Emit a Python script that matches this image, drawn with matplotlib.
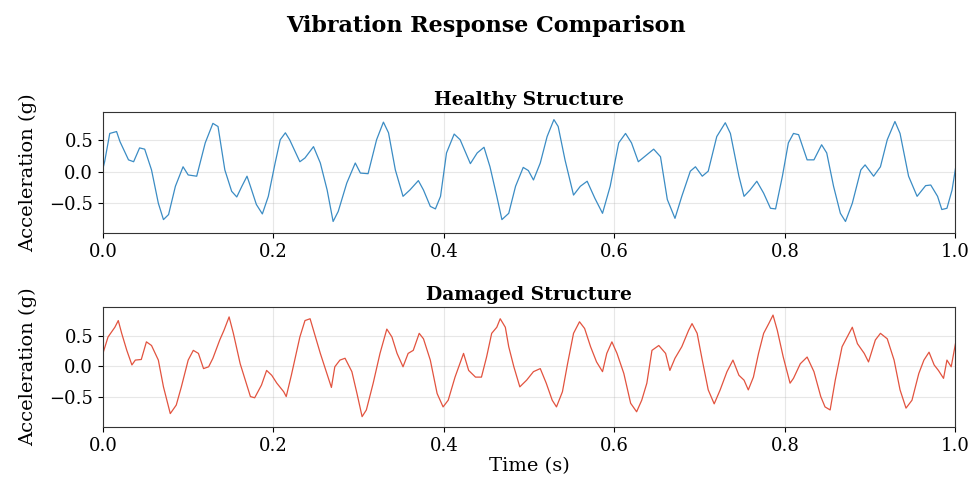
import numpy as np
import matplotlib
matplotlib.use("Agg")
import matplotlib.pyplot as plt

# Dados (tempo em s, aceleracao em g)
t_healthy = [0.000, 0.002, 0.008, 0.016, 0.020, 0.030, 0.036, 0.043, 0.049, 0.057,
             0.065, 0.071, 0.077, 0.085, 0.094, 0.100, 0.110, 0.120, 0.129, 0.135,
             0.143, 0.151, 0.157, 0.163, 0.169, 0.173, 0.180, 0.187, 0.194, 0.202,
             0.208, 0.214, 0.219, 0.231, 0.237, 0.247, 0.255, 0.263, 0.270, 0.276,
             0.286, 0.296, 0.302, 0.311, 0.321, 0.329, 0.335, 0.343, 0.352, 0.360,
             0.370, 0.376, 0.384, 0.390, 0.396, 0.403, 0.412, 0.419, 0.431, 0.439,
             0.447, 0.454, 0.462, 0.468, 0.476, 0.484, 0.493, 0.499, 0.505, 0.513,
             0.521, 0.529, 0.534, 0.542, 0.552, 0.560, 0.568, 0.577, 0.586, 0.595,
             0.605, 0.613, 0.620, 0.628, 0.638, 0.646, 0.654, 0.662, 0.671, 0.679,
             0.689, 0.695, 0.703, 0.710, 0.720, 0.730, 0.736, 0.746, 0.752, 0.759,
             0.767, 0.775, 0.783, 0.789, 0.797, 0.804, 0.810, 0.816, 0.826, 0.834,
             0.843, 0.849, 0.857, 0.865, 0.871, 0.879, 0.889, 0.894, 0.904, 0.912,
             0.920, 0.929, 0.935, 0.945, 0.955, 0.965, 0.971, 0.979, 0.984, 0.990,
             0.996, 1.000]
a_healthy = [0.05, 0.16, 0.61, 0.64, 0.48, 0.19, 0.16, 0.38, 0.36, 0.03,
             -0.50, -0.76, -0.68, -0.23, 0.08, -0.05, -0.07, 0.46, 0.77, 0.72,
             0.03, -0.31, -0.40, -0.23, -0.07, -0.23, -0.52, -0.67, -0.39, 0.14,
             0.51, 0.62, 0.51, 0.16, 0.22, 0.40, 0.14, -0.29, -0.79, -0.63,
             -0.18, 0.14, -0.02, -0.03, 0.51, 0.79, 0.62, 0.03, -0.39, -0.29,
             -0.14, -0.29, -0.55, -0.59, -0.39, 0.30, 0.60, 0.51, 0.13, 0.30,
             0.39, 0.08, -0.39, -0.76, -0.66, -0.23, 0.07, 0.02, -0.13, 0.14,
             0.56, 0.83, 0.72, 0.19, -0.37, -0.23, -0.15, -0.42, -0.66, -0.23,
             0.46, 0.61, 0.46, 0.16, 0.27, 0.36, 0.24, -0.44, -0.74, -0.39,
             0.01, 0.08, -0.07, 0.01, 0.56, 0.78, 0.61, -0.07, -0.39, -0.29,
             -0.15, -0.34, -0.58, -0.59, -0.07, 0.46, 0.61, 0.59, 0.19, 0.19,
             0.43, 0.30, -0.23, -0.66, -0.79, -0.50, 0.03, 0.11, -0.07, 0.08,
             0.51, 0.80, 0.61, -0.07, -0.39, -0.22, -0.21, -0.39, -0.60, -0.58,
             -0.29, 0.05]

t_damaged = [0.000, 0.006, 0.014, 0.018, 0.022, 0.028, 0.034, 0.038, 0.045, 0.051,
             0.057, 0.065, 0.071, 0.079, 0.086, 0.092, 0.100, 0.106, 0.112, 0.118,
             0.124, 0.129, 0.137, 0.142, 0.148, 0.153, 0.161, 0.167, 0.173, 0.178,
             0.186, 0.192, 0.198, 0.204, 0.212, 0.215, 0.221, 0.231, 0.237, 0.243,
             0.247, 0.255, 0.264, 0.268, 0.272, 0.278, 0.284, 0.292, 0.298, 0.304,
             0.309, 0.317, 0.325, 0.333, 0.339, 0.345, 0.352, 0.358, 0.364, 0.371,
             0.376, 0.384, 0.392, 0.399, 0.405, 0.413, 0.423, 0.429, 0.437, 0.444,
             0.450, 0.456, 0.462, 0.466, 0.472, 0.476, 0.482, 0.489, 0.497, 0.505,
             0.513, 0.520, 0.527, 0.532, 0.539, 0.545, 0.552, 0.559, 0.565, 0.572,
             0.579, 0.586, 0.591, 0.597, 0.603, 0.611, 0.619, 0.626, 0.632, 0.638,
             0.644, 0.652, 0.660, 0.665, 0.671, 0.679, 0.687, 0.691, 0.697, 0.703,
             0.710, 0.717, 0.724, 0.732, 0.739, 0.746, 0.752, 0.757, 0.763, 0.769,
             0.775, 0.781, 0.786, 0.791, 0.798, 0.806, 0.810, 0.818, 0.826, 0.834,
             0.842, 0.847, 0.853, 0.859, 0.867, 0.873, 0.879, 0.885, 0.893, 0.898,
             0.906, 0.912, 0.920, 0.928, 0.935, 0.942, 0.949, 0.957, 0.963, 0.969,
             0.975, 0.980, 0.986, 0.990, 0.995, 1.000]
a_damaged = [0.21, 0.48, 0.64, 0.75, 0.54, 0.26, 0.02, 0.10, 0.11, 0.40,
             0.34, 0.10, -0.34, -0.78, -0.64, -0.34, 0.10, 0.26, 0.21, -0.04,
             -0.01, 0.13, 0.43, 0.59, 0.81, 0.54, 0.04, -0.23, -0.50, -0.52,
             -0.31, -0.07, -0.15, -0.28, -0.42, -0.50, -0.15, 0.48, 0.75, 0.78,
             0.59, 0.21, -0.18, -0.35, -0.01, 0.10, 0.13, -0.09, -0.45, -0.83,
             -0.72, -0.28, 0.21, 0.61, 0.48, 0.21, -0.01, 0.21, 0.26, 0.54,
             0.45, 0.10, -0.45, -0.67, -0.56, -0.18, 0.21, -0.07, -0.18, -0.18,
             0.15, 0.54, 0.64, 0.78, 0.64, 0.32, -0.01, -0.34, -0.23, -0.09,
             -0.04, -0.28, -0.56, -0.67, -0.42, 0.04, 0.54, 0.73, 0.62, 0.32,
             0.07, -0.09, 0.21, 0.40, 0.21, -0.12, -0.61, -0.75, -0.56, -0.28,
             0.26, 0.34, 0.21, -0.07, 0.13, 0.32, 0.59, 0.70, 0.54, 0.10,
             -0.39, -0.62, -0.39, -0.09, 0.10, -0.15, -0.23, -0.39, -0.18, 0.21,
             0.54, 0.70, 0.84, 0.59, 0.15, -0.28, -0.20, 0.04, 0.15, -0.09,
             -0.50, -0.67, -0.72, -0.23, 0.32, 0.48, 0.64, 0.37, 0.21, 0.07,
             0.43, 0.54, 0.45, 0.10, -0.39, -0.69, -0.56, -0.12, 0.10, 0.23,
             0.02, -0.07, -0.20, 0.10, -0.01, 0.37]

plt.rcParams["font.family"] = "DejaVu Serif"
plt.rcParams["font.size"] = 13

fig = plt.figure(figsize=(9.71, 4.83), dpi=100)
fig.suptitle("Vibration Response Comparison", fontsize=16, fontweight="bold", y=0.968)

ax1 = fig.add_axes([0.106, 0.518, 0.878, 0.250])
ax1.plot(t_healthy, a_healthy, color="#3b8cc4", linewidth=0.9)
ax1.set_title("Healthy Structure", fontsize=13.5, fontweight="bold", pad=5)
ax1.set_ylabel("Acceleration (g)", fontsize=14, labelpad=9)
ax1.set_xlim(0, 1)
ax1.set_ylim(-0.97, 0.95)
ax1.set_yticks([-0.5, 0.0, 0.5])
ax1.grid(True, alpha=0.3)

ax2 = fig.add_axes([0.106, 0.116, 0.878, 0.248])
ax2.plot(t_damaged, a_damaged, color="#e2533f", linewidth=0.9)
ax2.set_title("Damaged Structure", fontsize=13.5, fontweight="bold", pad=5)
ax2.set_ylabel("Acceleration (g)", fontsize=14, labelpad=9)
ax2.set_xlabel("Time (s)", fontsize=14, labelpad=2)
ax2.set_xlim(0, 1)
ax2.set_ylim(-1.0, 0.97)
ax2.set_yticks([-0.5, 0.0, 0.5])
ax2.grid(True, alpha=0.3)

for ax in (ax1, ax2):
    ax.set_xticks(np.arange(0, 1.01, 0.2))
    for s in ax.spines.values():
        s.set_color("#333333")

fig.savefig("out.png", dpi=100)
